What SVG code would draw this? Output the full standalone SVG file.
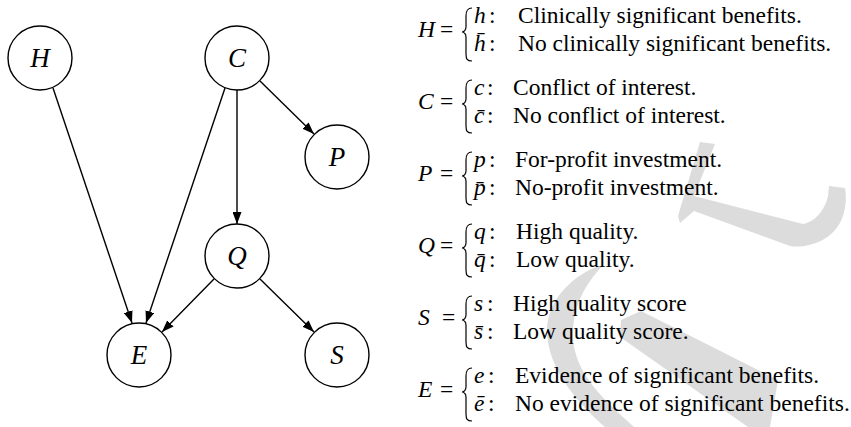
<svg xmlns="http://www.w3.org/2000/svg" width="851" height="427" viewBox="0 0 851 427">
<style>
.node circle{fill:#fff;stroke:#000;stroke-width:1.4}
.nl{font-family:"Liberation Serif","Times New Roman",serif;font-style:italic;font-size:27px;text-anchor:middle}
.edge{stroke:#000;stroke-width:1.4;fill:none;marker-end:url(#ah)}
.t{font-family:"Liberation Serif","Times New Roman",serif;font-size:23.5px;fill:#000}
.i{font-style:italic}
.br{fill:none;stroke:#000;stroke-width:1.2}
.wm{fill:#dcdcdc}
</style>
<defs>
<marker id="ah" markerUnits="userSpaceOnUse" markerWidth="12" markerHeight="9" refX="12" refY="4.5" orient="auto">
<path d="M0,0 L12,4.5 L0,9 Z" fill="#000"/>
</marker>
</defs>
<rect width="851" height="427" fill="#fff"/>
<g id="watermark">
<path class="wm" d="M700 142 L715 144 L694 196 L803 224 C815 222 825 210 828 196 L829 186 L845 188 C848 205 843 225 830 235 C818 245 800 248 790 246 L694 211 L680 223 L678 216 Z"/>
<path class="wm" d="M603 265 C575 272 547 300 547 330 C547 370 580 405 605 427 L634 427 C610 405 573 375 573 335 C573 305 585 285 603 265 Z"/>
<path class="wm" d="M621 320 L641 311 L778 380 L770 427 L748 427 L620 337 Z"/>
</g>
<g id="connectors">
<line class="edge" x1="53" y1="88" x2="132" y2="323"/>
<line class="edge" x1="225" y1="88" x2="146" y2="323"/>
<line class="edge" x1="237" y1="90" x2="237" y2="224"/>
<line class="edge" x1="260" y1="81" x2="314" y2="134"/>
<line class="edge" x1="214" y1="279" x2="162" y2="332"/>
<line class="edge" x1="260" y1="279" x2="314" y2="332"/>
</g>
<g id="node-H" class="node"><circle cx="40" cy="58" r="32"/><text class="nl" x="40" y="67">H</text></g>
<g id="node-C" class="node"><circle cx="237" cy="58" r="32"/><text class="nl" x="237" y="67">C</text></g>
<g id="node-P" class="node"><circle cx="337" cy="157" r="32"/><text class="nl" x="337" y="166">P</text></g>
<g id="node-Q" class="node"><circle cx="237" cy="256" r="32"/><text class="nl" x="237" y="265">Q</text></g>
<g id="node-E" class="node"><circle cx="139" cy="355" r="32"/><text class="nl" x="139" y="364">E</text></g>
<g id="node-S" class="node"><circle cx="337" cy="355" r="32"/><text class="nl" x="337" y="364">S</text></g>
<g id="legend-H">
<text class="t" y="37"><tspan class="i" x="418">H</tspan><tspan x="440">=</tspan></text>
<path class="br" d="M472 8 C467 8 466 11 466 16 L466 27 C466 30 464 32 462 32 C464 32 466 34 466 37 L466 54 C466 59 467 61 472 61"/>
<text class="t i" x="474" y="23">h</text><text class="t" x="489" y="23">:</text>
<text class="t i" x="474" y="51">h̄</text><text class="t" x="489" y="51">:</text>
<text class="t" x="518" y="23">Clinically significant benefits.</text>
<text class="t" x="518" y="51">No clinically significant benefits.</text>
</g>
<g id="legend-C">
<text class="t" y="109"><tspan class="i" x="418">C</tspan><tspan x="440">=</tspan></text>
<path class="br" d="M472 80 C467 80 466 83 466 88 L466 99 C466 102 464 104 462 104 C464 104 466 106 466 109 L466 126 C466 131 467 133 472 133"/>
<text class="t i" x="474" y="95">c</text><text class="t" x="487" y="95">:</text>
<text class="t i" x="474" y="123">c̄</text><text class="t" x="487" y="123">:</text>
<text class="t" x="513" y="95">Conflict of interest.</text>
<text class="t" x="513" y="123">No conflict of interest.</text>
</g>
<g id="legend-P">
<text class="t" y="181"><tspan class="i" x="418">P</tspan><tspan x="440">=</tspan></text>
<path class="br" d="M472 152 C467 152 466 155 466 160 L466 171 C466 174 464 176 462 176 C464 176 466 178 466 181 L466 198 C466 203 467 205 472 205"/>
<text class="t i" x="474" y="167">p</text><text class="t" x="489" y="167">:</text>
<text class="t i" x="474" y="195">p̄</text><text class="t" x="489" y="195">:</text>
<text class="t" x="515" y="167">For-profit investment.</text>
<text class="t" x="515" y="195">No-profit investment.</text>
</g>
<g id="legend-Q">
<text class="t" y="253"><tspan class="i" x="418">Q</tspan><tspan x="440">=</tspan></text>
<path class="br" d="M472 224 C467 224 466 227 466 232 L466 243 C466 246 464 248 462 248 C464 248 466 250 466 253 L466 270 C466 275 467 277 472 277"/>
<text class="t i" x="474" y="239">q</text><text class="t" x="489" y="239">:</text>
<text class="t i" x="474" y="267">q̄</text><text class="t" x="489" y="267">:</text>
<text class="t" x="516" y="239">High quality.</text>
<text class="t" x="516" y="267">Low quality.</text>
</g>
<g id="legend-S">
<text class="t" y="325"><tspan class="i" x="418">S</tspan><tspan x="442">=</tspan></text>
<path class="br" d="M472 296 C467 296 466 299 466 304 L466 315 C466 318 464 320 462 320 C464 320 466 322 466 325 L466 342 C466 347 467 349 472 349"/>
<text class="t i" x="474" y="311">s</text><text class="t" x="487" y="311">:</text>
<text class="t i" x="474" y="339">s̄</text><text class="t" x="487" y="339">:</text>
<text class="t" x="513" y="311">High quality score</text>
<text class="t" x="513" y="339">Low quality score.</text>
</g>
<g id="legend-E">
<text class="t" y="397"><tspan class="i" x="418">E</tspan><tspan x="440">=</tspan></text>
<path class="br" d="M472 368 C467 368 466 371 466 376 L466 387 C466 390 464 392 462 392 C464 392 466 394 466 397 L466 414 C466 419 467 421 472 421"/>
<text class="t i" x="474" y="383">e</text><text class="t" x="488" y="383">:</text>
<text class="t i" x="474" y="411">ē</text><text class="t" x="488" y="411">:</text>
<text class="t" x="515" y="383">Evidence of significant benefits.</text>
<text class="t" x="515" y="411">No evidence of significant benefits.</text>
</g>
</svg>
